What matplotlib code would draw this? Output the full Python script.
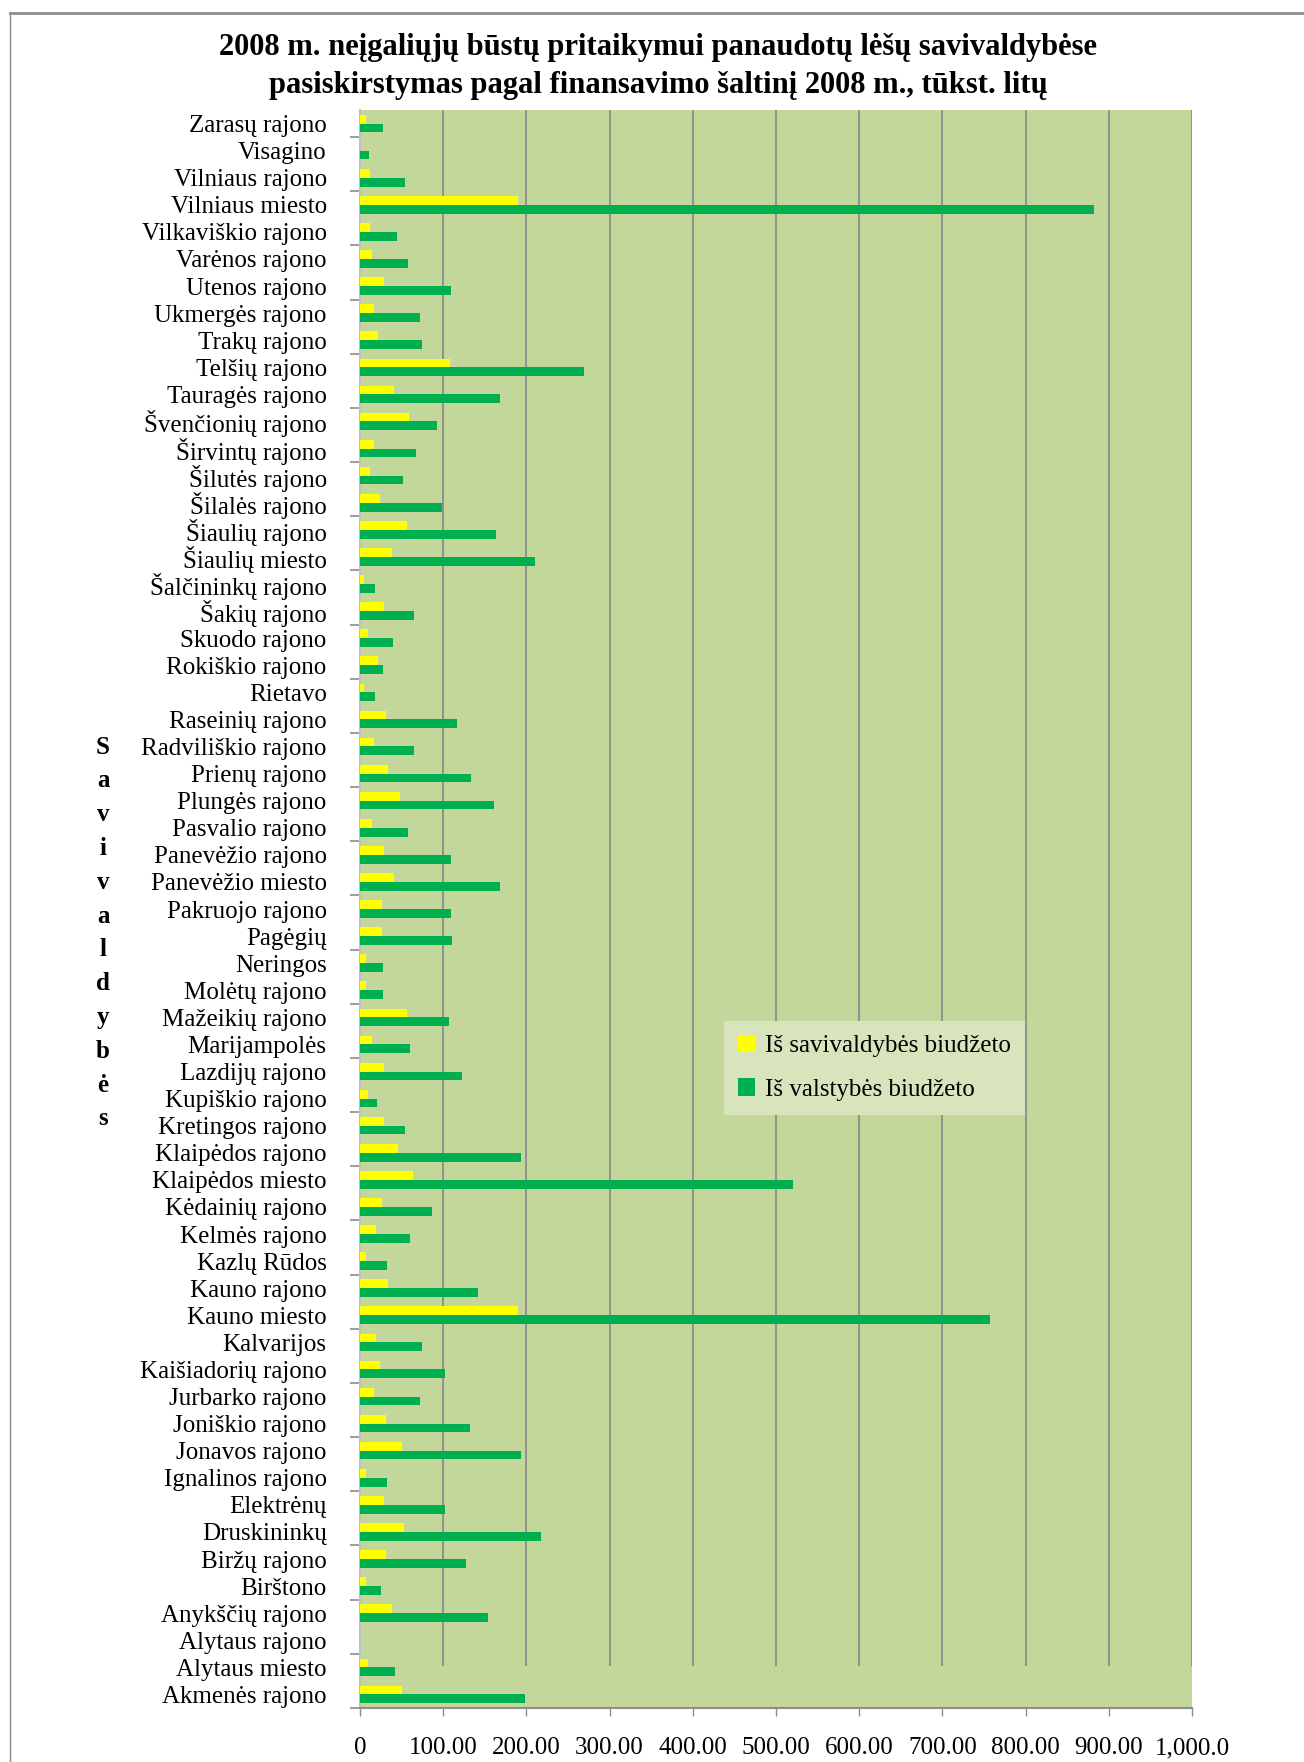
import matplotlib
matplotlib.use('Agg')
import matplotlib.pyplot as plt
from matplotlib.patches import Patch
from matplotlib.lines import Line2D
import numpy as np

plt.rcParams['font.family'] = ['Liberation Serif', 'DejaVu Serif']

# ─── Duomenys (iš viršaus į apačią) ──────────────────────────────────────────
savivaldybes = [
    'Zarasų rajono', 'Visagino', 'Vilniaus rajono', 'Vilniaus miesto',
    'Vilkaviškio rajono', 'Varėnos rajono', 'Utenos rajono', 'Ukmergės rajono',
    'Trakų rajono', 'Telšių rajono', 'Tauragės rajono', 'Švenčionių rajono',
    'Širvintų rajono', 'Šilutės rajono', 'Šilalės rajono', 'Šiaulių rajono',
    'Šiaulių miesto', 'Šalčininkų rajono', 'Šakių rajono', 'Skuodo rajono',
    'Rokiškio rajono', 'Rietavo', 'Raseinių rajono', 'Radviliškio rajono',
    'Prienų rajono', 'Plungės rajono', 'Pasvalio rajono', 'Panevėžio rajono',
    'Panevėžio miesto', 'Pakruojo rajono', 'Pagėgių', 'Neringos',
    'Molėtų rajono', 'Mažeikių rajono', 'Marijampolės', 'Lazdijų rajono',
    'Kupiškio rajono', 'Kretingos rajono', 'Klaipėdos rajono', 'Klaipėdos miesto',
    'Kėdainių rajono', 'Kelmės rajono', 'Kazlų Rūdos', 'Kauno rajono',
    'Kauno miesto', 'Kalvarijos', 'Kaišiadorių rajono', 'Jurbarko rajono',
    'Joniškio rajono', 'Jonavos rajono', 'Ignalinos rajono', 'Elektrėnų',
    'Druskininkų', 'Biržų rajono', 'Birštono', 'Anykščių rajono',
    'Alytaus rajono', 'Alytaus miesto', 'Akmenės rajono',
]

savivaldybes_biudzetas = [
    7.3, 0, 12.1, 190, 12, 14.5, 29, 17, 21.8, 107.7,
    41, 59, 17, 12, 24, 57, 38.7, 4.8, 29, 9.7,
    21.8, 4.8, 31.5, 17, 34, 48, 14.5, 29, 41, 26.6,
    26.6, 7.3, 7.3, 57, 14.5, 29, 9.7, 29, 46, 64,
    26.6, 19.4, 7.3, 34, 190, 19.4, 24, 17, 31.5, 50.8,
    7.3, 29, 53, 31.5, 7.3, 38.7, 0, 9.7, 50.8,
]

valstybes_biudzetas = [
    27.8, 10.9, 54.4, 882, 44.8, 58, 108.9, 72.6, 75, 269.8,
    168, 92, 67.7, 52, 99, 163, 210.5, 18, 65, 40,
    27.8, 18, 117, 65, 134, 161, 58, 109, 168, 109,
    111, 27.8, 27.8, 106.5, 60.5, 122, 20.6, 54.4, 193.5, 520,
    87, 60.5, 32.7, 141.5, 757, 75, 101.6, 72.6, 132, 193.5,
    32.7, 101.6, 217.7, 127, 25.4, 153.6, 0, 42.3, 198.4,
]

x_ticks = [0, 100, 200, 300, 400, 500, 600, 700, 800, 900, 1000]
x_tick_labels = ['0', '100.00', '200.00', '300.00', '400.00', '500.00',
                 '600.00', '700.00', '800.00', '900.00', '1,000.0']

# ─── Spalvos ─────────────────────────────────────────────────────────────────
GELTONA = '#FFFF00'
ZALIA = '#00B050'
FONAS = '#C4D79B'
LEGENDOS_FONAS = '#D8E4BC'
TINKLELIS = '#8C8C8C'

W, H = 1304, 1762
fig = plt.figure(figsize=(W / 100, H / 100), dpi=100)
fig.patch.set_facecolor('white')

# rėmelis
fig.add_artist(Line2D([10 / W, 1], [1 - 13 / H, 1 - 13 / H], transform=fig.transFigure,
                      color='#8C8C8C', linewidth=2))
fig.add_artist(Line2D([10 / W, 10 / W], [0, 1 - 13 / H], transform=fig.transFigure,
                      color='#8C8C8C', linewidth=1))

ax = fig.add_axes([360 / W, 1 - 1708 / H, 832 / W, 1598 / H])
ax.set_facecolor(FONAS)

n = len(savivaldybes)
y = np.arange(n)[::-1]
h = 0.325
ax.barh(y + h / 2, savivaldybes_biudzetas, height=h, color=GELTONA, zorder=3,
        label='Iš savivaldybės biudžeto')
ax.barh(y - h / 2, valstybes_biudzetas, height=h, color=ZALIA, zorder=3,
        label='Iš valstybės biudžeto')

ax.set_xlim(0, 1000)
ax.set_ylim(-0.5, n - 0.5)

# vertikalus tinklelis (originale baigiasi ties Alytaus miestu)
ax.vlines(x_ticks[1:], 1.05, n - 0.5, color=TINKLELIS, linewidth=1.3, zorder=1)

ax.set_xticks(x_ticks)
ax.set_xticklabels(x_tick_labels, fontsize=18)
ax.tick_params(axis='x', length=6, width=1, color=TINKLELIS, pad=15)

ax.set_yticks(y)
ax.set_yticklabels(savivaldybes, fontsize=18)
ax.tick_params(axis='y', which='major', length=0, pad=24)
ax.set_yticks(np.arange(-0.5, n - 1, 2), minor=True)
ax.tick_params(axis='y', which='minor', length=7, width=1.2, color=TINKLELIS)

for s in ['top', 'right']:
    ax.spines[s].set_visible(False)
ax.spines['left'].set_color('#BFBFBF')
ax.spines['left'].set_linewidth(1.5)
ax.spines['bottom'].set_color(TINKLELIS)
ax.spines['bottom'].set_linewidth(1.5)

fig.text(658 / W, 1 - 47 / H,
         '2008 m. neįgaliųjų būstų pritaikymui panaudotų lėšų savivaldybėse',
         ha='center', va='center', fontsize=22, fontweight='bold')
fig.text(658 / W, 1 - 86 / H,
         'pasiskirstymas pagal finansavimo šaltinį 2008 m., tūkst. litų',
         ha='center', va='center', fontsize=22, fontweight='bold')

fig.text(103 / W, 1 - 933 / H, '\n'.join('Savivaldybės'), ha='center', va='center',
         fontsize=18, fontweight='bold', linespacing=1.6)

handles = [Patch(facecolor=GELTONA, edgecolor='none'),
           Patch(facecolor=ZALIA, edgecolor='none')]
leg = ax.legend(handles, ['Iš savivaldybės biudžeto', 'Iš valstybės biudžeto'],
                loc='upper left', bbox_to_anchor=(0.4375, 0.430), fontsize=18,
                frameon=True, fancybox=False, facecolor=LEGENDOS_FONAS,
                edgecolor='none', framealpha=1, handlelength=0.7, handleheight=0.7,
                handletextpad=0.4, labelspacing=0.85, borderpad=0.55,
                borderaxespad=0)

plt.savefig('out.png', dpi=100, facecolor='white')
plt.close()
